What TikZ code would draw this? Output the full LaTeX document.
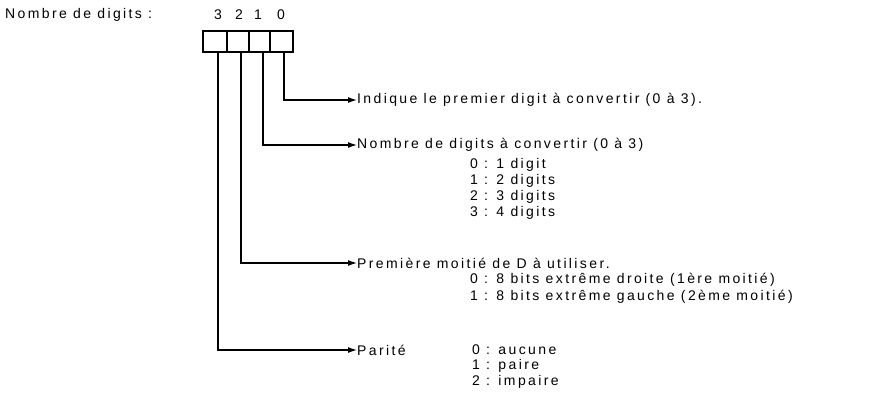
\documentclass[tikz,border=0pt]{standalone}
\usepackage{fontspec}
\usetikzlibrary{arrows.meta}
\setmainfont[LetterSpace=17]{Liberation Sans}
\begin{document}
\begin{tikzpicture}[x=1pt,y=-1pt,font=\fontsize{14}{16}\selectfont,
  ln/.style={line width=1.2pt},
  arr/.style={line width=1.2pt,-{Latex[length=9pt,width=6pt]}},
  lab/.style={anchor=west,inner sep=0pt},
  sub/.style={anchor=west,inner sep=0pt}]
\useasboundingbox (0,0) rectangle (879,418);
\node[lab] (title) at (5,15) {Nombre de digits :};
\node (d3) at (218,15) {3};
\node (d2) at (239,15) {2};
\node (d1) at (258,15) {1};
\node (d0) at (281,15) {0};
\draw[ln] (203,31) rectangle (293,52);
\draw[ln] (227,31) -- (227,52) (249,31) -- (249,52) (270,31) -- (270,52);
\coordinate (s0) at (284,52); \coordinate (s1) at (263,52);
\coordinate (s2) at (241,52); \coordinate (s3) at (218,52);
\node[lab] (t0) at (357,100) {Indique le premier digit à convertir (0 à 3).};
\node[lab] (t1) at (357,145) {Nombre de digits à convertir (0 à 3)};
\node[lab] (t2) at (357,263) {Première moitié de D à utiliser.};
\node[lab] (t3) at (357,350) {Parité};
\draw[arr] (s0) |- (t0.west);
\draw[arr] (s1) |- (t1.west);
\draw[arr] (s2) |- (t2.west);
\draw[arr] (s3) |- (t3.west);
\node[sub] (a0) at (470,165) {0 : 1 digit};
\node[sub] (a1) at (470,181) {1 : 2 digits};
\node[sub] (a2) at (470,197) {2 : 3 digits};
\node[sub] (a3) at (470,213) {3 : 4 digits};
\node[sub] (b0) at (470,280) {0 : 8 bits extrême droite (1ère moitié)};
\node[sub] (b1) at (470,297) {1 : 8 bits extrême gauche (2ème moitié)};
\node[sub] (c0) at (472,350) {0 : aucune};
\node[sub] (c1) at (472,366) {1 : paire};
\node[sub] (c2) at (472,382) {2 : impaire};
\end{tikzpicture}
\end{document}
